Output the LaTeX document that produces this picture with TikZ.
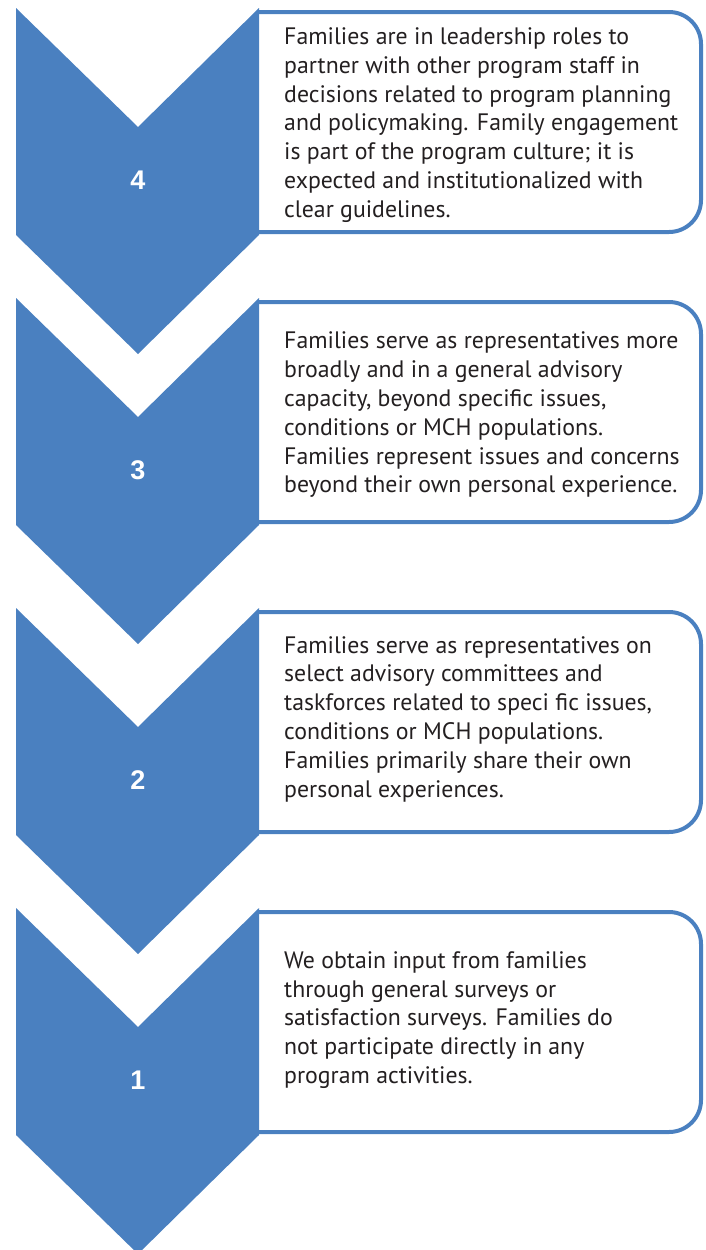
\documentclass[tikz,border=0pt]{standalone}
\usepackage{fontspec}
\setmainfont{PT Sans}
\newfontfamily\numfont{Liberation Sans}
\definecolor{chevblue}{HTML}{4A80C0}
\definecolor{txtgray}{HTML}{231F20}
\begin{document}
\begin{tikzpicture}[x=1pt,y=-1pt,
  chev/.style={fill=chevblue},
  boxline/.style={draw=chevblue,line width=4pt,rounded corners=32pt},
  desc/.style={anchor=west,align=left,inner sep=0pt,text=txtgray,font=\fontsize{23.8}{28.8}\selectfont},
  num/.style={text=white,inner sep=0pt,font=\numfont\bfseries\fontsize{27}{30}\selectfont}]
\useasboundingbox (0,0) rectangle (706,1250);
% boxes
\foreach \t in {8,298,608,908}{
  \draw[boxline] (259,\t+4) -- (701,\t+4) -- (701,\t+224) -- (259,\t+224);
}
% chevrons and numbers
\foreach \t/\n in {8/4,298/3,608/2,908/1}{
  \fill[chev] (16,\t) -- (138,\t+119) -- (259,\t) -- (259,\t+227) -- (138,\t+346) -- (16,\t+227) -- cycle;
  \node[num] (n\n) at (138,\t+172) {\n};
}
\node[desc] (t4) at (284,125) {Families are in leadership roles to\\partner with other program staff in\\decisions related to program planning\\and policymaking. Family engagement\\is part of the program culture; it is\\expected and institutionalized with\\clear guidelines.};
\node[desc] (t3) at (284,415) {Families serve as representatives more\\broadly and in a general advisory\\capacity, beyond specific issues,\\conditions or MCH populations.\\Families represent issues and concerns\\beyond their own personal experience.};
\node[desc] (t2) at (284,719) {Families serve as representatives on\\select advisory committees and\\taskforces related to speci fic issues,\\conditions or MCH populations.\\Families primarily share their own\\personal experiences.};
\node[desc] (t1) at (284,1020) {We obtain input from families\\through general surveys or\\satisfaction surveys. Families do\\not participate directly in any\\program activities.};
\end{tikzpicture}
\end{document}
